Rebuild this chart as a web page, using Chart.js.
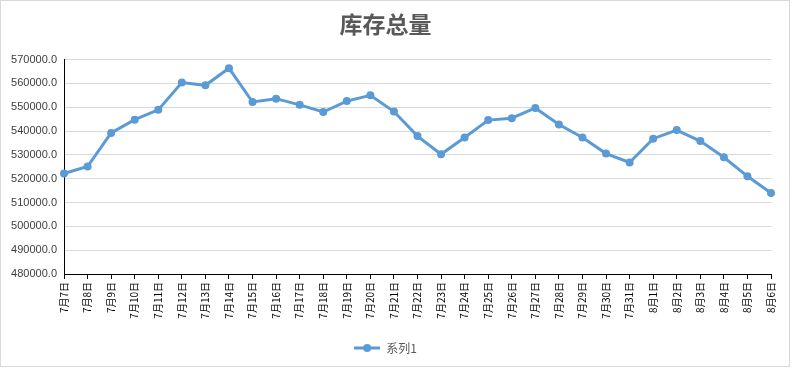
<!DOCTYPE html>
<html lang="zh">
<head>
  <meta charset="UTF-8">
  <title>库存总量</title>
  <script src="https://cdn.jsdelivr.net/npm/chart.js@4.4.1/dist/chart.umd.min.js"></script>
  <style>
    body { margin: 0; padding: 0; background: #fff; overflow: hidden; }
    .wrap { width: 793px; height: 368px; position: relative; }
  </style>
</head>
<body>
  <div class="wrap"><canvas id="stockChart" width="793" height="368"></canvas></div>

  <script>
    // categories and values
    const dates = ['7月7日', '7月8日', '7月9日', '7月10日', '7月11日', '7月12日', '7月13日', '7月14日',
      '7月15日', '7月16日', '7月17日', '7月18日', '7月19日', '7月20日', '7月21日', '7月22日',
      '7月23日', '7月24日', '7月25日', '7月26日', '7月27日', '7月28日', '7月29日', '7月30日',
      '7月31日', '8月1日', '8月2日', '8月3日', '8月4日', '8月5日', '8月6日'];
    const series1 = [522200, 525100, 539200, 544800, 548900, 560400, 559200, 566400,
      552200, 553600, 551000, 548000, 552600, 555000, 548200, 537900,
      530250, 537300, 544600, 545400, 549700, 542750, 537300, 530550,
      526800, 536800, 540400, 535800, 529000, 521000, 514000];
    const yTicks = { min: 480000, max: 570000, step: 10000 };

    const blue = '#5B9BD5';
    const grey = '#595959';

    // legend marker: line with a dot in the middle
    const marker = document.createElement('canvas');
    marker.width = 26; marker.height = 10;
    const mctx = marker.getContext('2d');
    mctx.strokeStyle = blue; mctx.lineWidth = 3;
    mctx.beginPath(); mctx.moveTo(0, 5); mctx.lineTo(26, 5); mctx.stroke();
    mctx.fillStyle = blue;
    mctx.beginPath(); mctx.arc(13, 5, 4, 0, Math.PI * 2); mctx.fill();

    const frame = {
      id: 'frame',
      afterDraw(chart) {
        const c = chart.ctx;
        c.save();
        c.strokeStyle = '#d9d9d9';
        c.lineWidth = 1;
        c.strokeRect(0.5, 0.5, 789, 366);
        c.restore();
      }
    };

    new Chart(document.getElementById('stockChart'), {
      type: 'line',
      data: {
        labels: dates,
        datasets: [{
          label: '系列1',
          data: series1,
          borderColor: blue,
          backgroundColor: blue,
          borderWidth: 3,
          pointRadius: 4,
          pointHoverRadius: 4,
          pointBackgroundColor: blue,
          pointBorderWidth: 0,
          tension: 0
        }]
      },
      options: {
        responsive: false,
        animation: false,
        devicePixelRatio: 1,
        layout: { padding: { left: 0, right: 22, top: 0, bottom: 4 } },
        plugins: {
          title: {
            display: true,
            text: '库存总量',
            color: grey,
            font: { family: '"Noto Sans CJK SC"', size: 23, weight: 'bold' },
            padding: { top: 10, bottom: 22 }
          },
          legend: {
            display: true,
            position: 'bottom',
            labels: {
              usePointStyle: true,
              pointStyle: marker,
              boxWidth: 26,
              pointStyleWidth: 26,
              color: grey,
              padding: 11,
              font: { family: '"Noto Sans CJK SC"', size: 12 }
            }
          },
          tooltip: { enabled: false }
        },
        scales: {
          x: {
            offset: false,
            grid: {
              display: true,
              drawOnChartArea: false,
              drawTicks: true,
              tickLength: 5,
              color: '#000'
            },
            border: { color: '#000', width: 1 },
            ticks: {
              color: '#000',
              minRotation: 90,
              maxRotation: 90,
              autoSkip: false,
              padding: 3,
              font: { family: '"Noto Sans CJK SC"', size: 10 }
            },
            afterFit(scale) { scale.height = 57; }
          },
          y: {
            min: yTicks.min,
            max: yTicks.max,
            grid: { color: '#d9d9d9', drawTicks: false },
            border: { color: '#000', width: 1 },
            ticks: {
              stepSize: yTicks.step,
              color: '#404040',
              padding: 7,
              font: { family: '"Liberation Sans"', size: 11 },
              callback: v => v.toFixed(1)
            },
            afterFit(scale) { scale.width = 64; }
          }
        }
      },
      plugins: [frame]
    });
  </script>
</body>
</html>
